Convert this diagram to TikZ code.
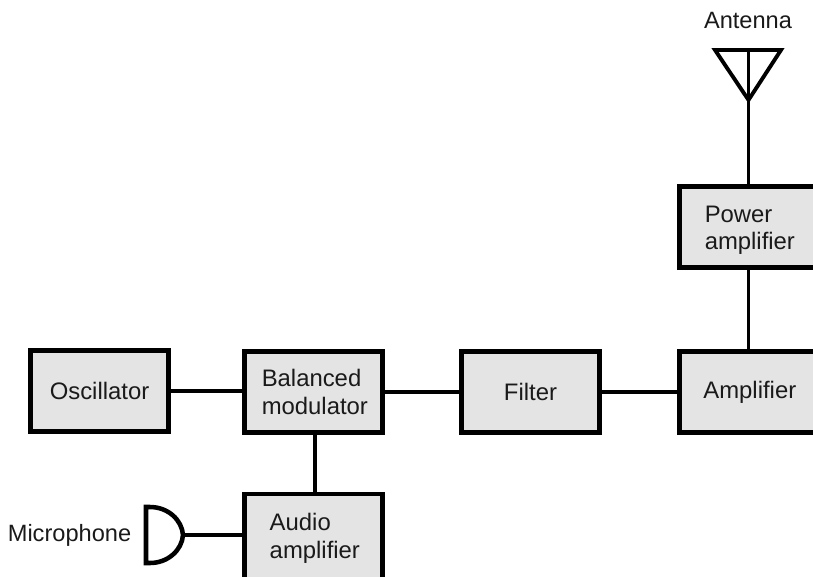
\documentclass[tikz,border=0pt]{standalone}
\usepackage{fontspec}
\setmainfont{Liberation Sans}
\definecolor{boxfill}{HTML}{E4E4E4}
\definecolor{ink}{HTML}{1A1A1A}
\newcommand{\nudge}{\hspace*{2pt}}
\tikzset{
  blockbox/.style={draw=black,fill=boxfill,line width=3.7pt,minimum width=104pt,minimum height=61pt,
    inner sep=0pt,align=left,text=ink,font=\fontsize{17.9pt}{20.5pt}\selectfont},
  conn/.style={draw=black,line width=2.9pt},
  lbl/.style={text=ink,inner sep=0pt,font=\fontsize{17.7pt}{20.5pt}\selectfont},
}
\begin{document}
\begin{tikzpicture}[x=0.75pt,y=-0.75pt]
\useasboundingbox (0,0) rectangle (813,576);
\clip (0,0) rectangle (813,576);
\node[blockbox] (osc) at (99.5,391) {Oscillator};
\node[blockbox] (bal) at (313.5,392) {\nudge Balanced\\\nudge modulator};
\node[blockbox] (fil) at (530.5,392) {Filter};
\node[blockbox] (amp) at (748.5,392) {\nudge Amplifier};
\node[blockbox] (pow) at (748.5,227) {\nudge\rule{0pt}{17.3pt}Power\\\nudge amplifier};
\node[blockbox,minimum height=69pt] (aud) at (313.5,540) {\nudge Audio\\\nudge amplifier\rule[-6.2pt]{0pt}{0pt}};
\node[lbl] (antl) at (748,20) {Antenna};
\node[lbl] (micl) at (69.5,535) {Microphone};
\coordinate (apex) at (748.5,100);
\coordinate (micr) at (183,535);
% antenna
\draw[conn,line join=miter] (715,50) -- (781,50) -- (apex) -- cycle;
\draw[conn] (748.5,50) -- (apex);
% microphone
\draw[draw=black,line width=3.4pt,line join=miter] (146,507) -- (146,563) -- (150,563)
  .. controls (168,563) and (182,550) .. (micr)
  .. controls (182,520) and (168,507) .. (150,507) -- cycle;
% connectors
\draw[conn] (osc.east) -- (osc.east -| bal.west);
\draw[conn] (bal) -- (fil);
\draw[conn] (fil) -- (amp);
\draw[conn] (amp) -- (pow);
\draw[conn] (pow) -- (apex);
\draw[conn] ([xshift=0.9pt]bal.south) -- ([xshift=0.9pt]aud.north);
\draw[conn] (micr) -- (micr -| aud.west);
\end{tikzpicture}
\end{document}
